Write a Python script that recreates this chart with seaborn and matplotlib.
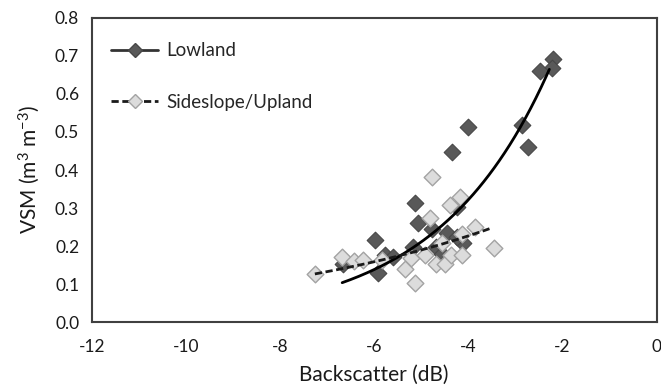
import numpy as np
import pandas as pd
import matplotlib
matplotlib.use("Agg")
import matplotlib.pyplot as plt
import seaborn as sns
from matplotlib.lines import Line2D

lowland_x = [-2.21, -2.23, -2.48, -2.86, -2.73, -4.00, -4.34, -5.14, -5.07, -4.78,
             -4.46, -4.24, -5.99, -6.66, -5.91, -5.77, -5.59, -5.17, -4.68, -4.57,
             -4.11, -4.25]
lowland_y = [0.691, 0.668, 0.661, 0.518, 0.460, 0.512, 0.446, 0.314, 0.261, 0.246,
             0.235, 0.302, 0.216, 0.154, 0.130, 0.176, 0.172, 0.198, 0.198, 0.180,
             0.207, 0.224]
upland_x = [-4.78, -4.18, -4.39, -4.82, -3.86, -3.46, -7.26, -6.69, -6.42, -6.23,
            -5.84, -5.35, -5.14, -5.21, -4.92, -4.68, -4.50, -4.36, -4.14, -4.14,
            -4.57]
upland_y = [0.382, 0.330, 0.308, 0.275, 0.251, 0.196, 0.126, 0.172, 0.161, 0.163,
            0.163, 0.141, 0.102, 0.168, 0.176, 0.154, 0.154, 0.176, 0.176, 0.233,
            0.207]

# exponential trendlines  y = a * exp(b * x), drawn over [x_start, x_end]
lowland_fit = {"a": 1.736, "b": 0.4213, "x_start": -6.68, "x_end": -2.28}
upland_fit = {"a": 0.4626, "b": 0.178, "x_start": -7.26, "x_end": -3.50}

x_ticks = [-12, -10, -8, -6, -4, -2, 0]
y_ticks = [0.0, 0.1, 0.2, 0.3, 0.4, 0.5, 0.6, 0.7, 0.8]
series_names = ["Lowland", "Sideslope/Upland"]

sns.set_theme(style="white")
plt.rcParams['font.family'] = ['Lato', 'DejaVu Sans']
plt.rcParams['mathtext.fontset'] = 'custom'
plt.rcParams['mathtext.rm'] = 'Lato'
plt.rcParams['mathtext.it'] = 'Lato'

fig = plt.figure(figsize=(6.61, 3.88), dpi=100)
ax = fig.add_axes([0.1387, 0.1693, 0.8548, 0.7851])

low = pd.DataFrame({"x": lowland_x, "y": lowland_y})
up = pd.DataFrame({"x": upland_x, "y": upland_y})

dark_fc, dark_ec = "#595959", "#474747"
light_fc, light_ec = "#dcdcdc", "#a3a3a3"
dash = (0, (2.6, 1.3))

sns.scatterplot(data=up, x="x", y="y", marker="D", s=72, color=light_fc,
                edgecolor=light_ec, linewidth=1.0, ax=ax, zorder=3)
sns.scatterplot(data=low, x="x", y="y", marker="D", s=72, color=dark_fc,
                edgecolor=dark_ec, linewidth=0.8, ax=ax, zorder=2)

def trend(fit):
    xx = np.linspace(fit["x_start"], fit["x_end"], 200)
    return xx, fit["a"] * np.exp(fit["b"] * xx)

xx, yy = trend(lowland_fit)
sns.lineplot(x=xx, y=yy, color="black", linewidth=2.0, ax=ax, zorder=4)
xx2, yy2 = trend(upland_fit)
sns.lineplot(x=xx2, y=yy2, color="#1a1a1a", linewidth=2.0, linestyle=dash, ax=ax, zorder=4)

ax.set_xlim(-12, 0)
ax.set_ylim(0, 0.8)
ax.set_xticks(x_ticks)
ax.set_xticklabels([str(t) for t in x_ticks])
ax.set_yticks(y_ticks)
ax.set_yticklabels([f"{t:.1f}" for t in y_ticks])
ax.tick_params(axis="both", direction="out", length=5, width=1.3, color="#404040",
               labelsize=12.5, labelcolor="#1a1a1a", pad=4)
ax.tick_params(axis="x", pad=7)
for sp in ax.spines.values():
    sp.set_color("#404040")
    sp.set_linewidth(1.5)
ax.set_xlabel("Backscatter (dB)", fontsize=15, color="#1a1a1a", labelpad=7)
ax.set_ylabel("VSM (m$^{3}$ m$^{-3}$)", fontsize=15, color="#1a1a1a", labelpad=9)

handles = [
    Line2D([0], [0], color="#333333", linewidth=2.0, marker="D", markersize=7,
           markerfacecolor=dark_fc, markeredgecolor=dark_ec),
    Line2D([0], [0], color="#1a1a1a", linewidth=2.0, linestyle=dash, marker="D",
           markersize=7, markerfacecolor=light_fc, markeredgecolor=light_ec),
]
ax.legend(handles, series_names, loc="upper left",
          bbox_to_anchor=(0.005, 0.975), frameon=False, fontsize=13.5,
          labelspacing=1.85, handlelength=2.5, handletextpad=0.45)

fig.savefig("out.png", dpi=100)
